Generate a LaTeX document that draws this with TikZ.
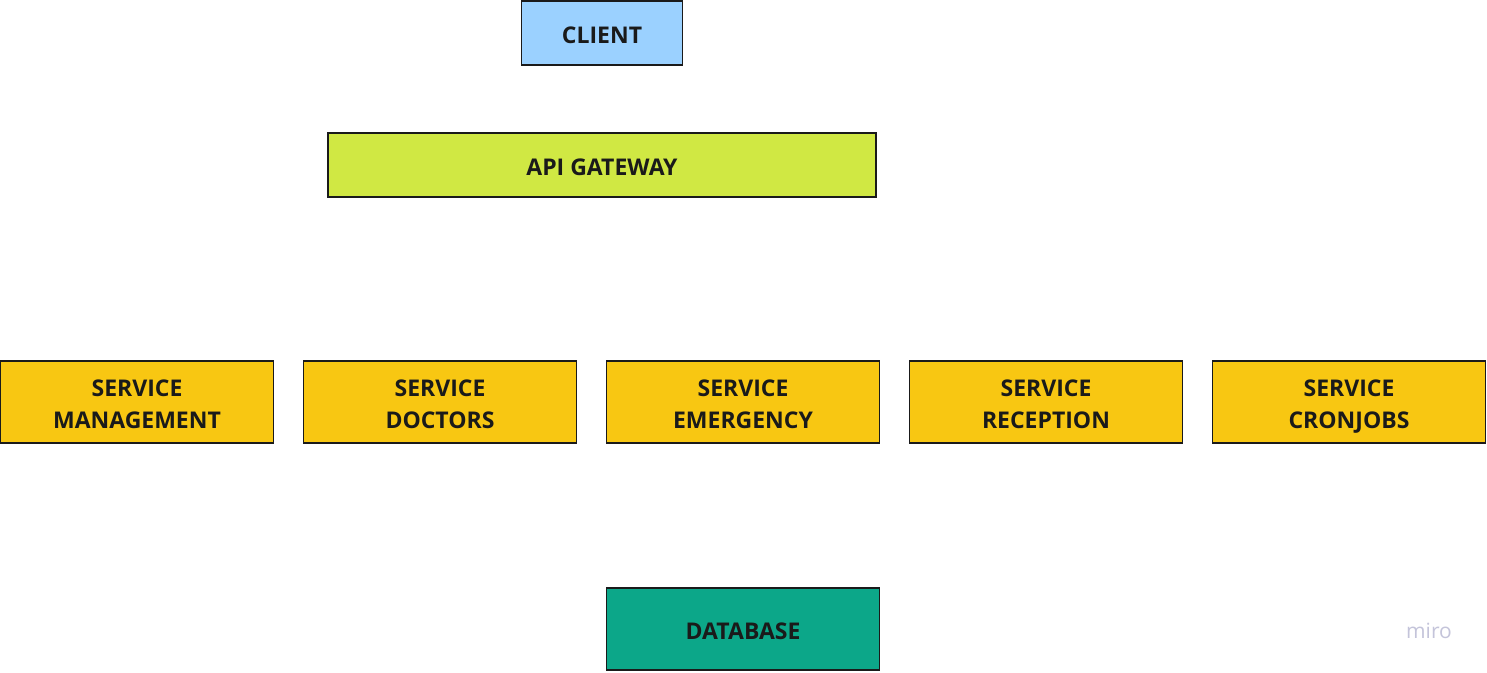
\documentclass[tikz,border=0pt]{standalone}
\usepackage{fontspec}
\setmainfont{Open Sans}
\definecolor{clientc}{HTML}{9BD1FF}
\definecolor{apic}{HTML}{D0E843}
\definecolor{svcc}{HTML}{F8C712}
\definecolor{dbc}{HTML}{0CA789}
\definecolor{edgec}{HTML}{1A1A1A}
\definecolor{miroc}{HTML}{C4C4DA}
\newcommand\myOneTop{\rule{0pt}{26pt}}
\newcommand\myOneBot{\rule[-6pt]{0pt}{6pt}}
\newcommand\myTwoTop{\rule{0pt}{28pt}}
\newcommand\myTwoBot{\rule[-8pt]{0pt}{8pt}}
\begin{document}
\begin{tikzpicture}[x=1pt,y=-1pt,
  box/.style={draw=edgec,line width=1.6pt,inner sep=0pt,align=center,
    font=\fontsize{23}{32}\selectfont\bfseries,text=edgec},
  small/.style={box,minimum width=161pt,minimum height=64pt},
  wide/.style={box,minimum width=548pt,minimum height=64pt},
  svc/.style={box,fill=svcc,minimum width=273pt,minimum height=82pt}]
\useasboundingbox[fill=white] (0,0) rectangle (1487,672);
\node[small,fill=clientc] (client) at (602,33) {\myOneTop CLIENT\myOneBot};
\node[wide,fill=apic] (api) at (602,165) {\myOneTop API GATEWAY\myOneBot};
\node[svc] (mgmt) at (137,402) {\myTwoTop SERVICE\\MANAGEMENT\myTwoBot};
\node[svc] (doc) at (440,402) {\myTwoTop SERVICE\\DOCTORS\myTwoBot};
\node[svc] (emer) at (743,402) {\myTwoTop SERVICE\\EMERGENCY\myTwoBot};
\node[svc] (rec) at (1046,402) {\myTwoTop SERVICE\\RECEPTION\myTwoBot};
\node[svc] (cron) at (1349,402) {\myTwoTop SERVICE\\CRONJOBS\myTwoBot};
\node[svc,fill=dbc] (db) at (743,629) {\myOneTop DATABASE\myOneBot};
\node[text=miroc,font=\fontsize{21}{22}\selectfont,inner sep=0pt] (miro) at (1429,631) {miro};
\end{tikzpicture}
\end{document}
